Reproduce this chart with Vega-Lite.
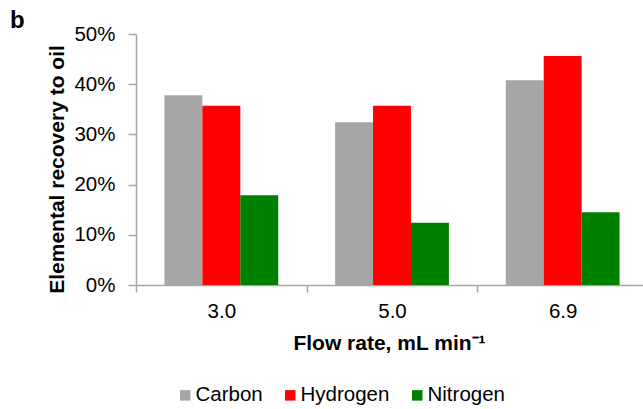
{
  "$schema": "https://vega.github.io/schema/vega-lite/v6.json",
  "width": 507,
  "height": 251,
  "autosize": {"type": "none"},
  "padding": {"left": 136, "top": 34, "right": 0, "bottom": 124},
  "background": "white",
  "title": {
    "text": "b",
    "anchor": "start",
    "frame": "group",
    "fontSize": 24,
    "fontWeight": "bold",
    "font": "Liberation Sans",
    "color": "black",
    "dx": -126,
    "dy": 13
  },
  "config": {
    "view": {"stroke": null},
    "font": "Liberation Sans",
    "axis": {
      "labelFont": "Liberation Sans",
      "titleFont": "Liberation Sans",
      "labelColor": "black",
      "titleColor": "black",
      "domainColor": "#A6A6A6",
      "tickColor": "#A6A6A6",
      "grid": false
    }
  },
  "data": {
    "values": [
      {"flow": "3.0", "element": "Carbon", "value": 0.378},
      {"flow": "3.0", "element": "Hydrogen", "value": 0.357},
      {"flow": "3.0", "element": "Nitrogen", "value": 0.179},
      {"flow": "5.0", "element": "Carbon", "value": 0.324},
      {"flow": "5.0", "element": "Hydrogen", "value": 0.357},
      {"flow": "5.0", "element": "Nitrogen", "value": 0.124},
      {"flow": "6.9", "element": "Carbon", "value": 0.408},
      {"flow": "6.9", "element": "Hydrogen", "value": 0.456},
      {"flow": "6.9", "element": "Nitrogen", "value": 0.145}
    ]
  },
  "mark": {"type": "bar"},
  "encoding": {
    "x": {
      "field": "flow",
      "type": "nominal",
      "sort": ["3.0", "5.0", "6.9"],
      "scale": {"paddingInner": 0, "paddingOuter": 0, "range": [0, 512]},
      "axis": {
        "title": "Flow rate, mL min⁻¹",
        "titleFontSize": 21,
        "titleFontWeight": "bold",
        "titleBaseline": "alphabetic",
        "titleX": 253,
        "titleY": 64,
        "titleAnchor": null,
        "labelAngle": 0,
        "labelFontSize": 20.5,
        "labelPadding": 9,
        "tickBand": "extent",
        "tickSize": 7,
        "domainWidth": 1.5,
        "tickWidth": 1.5
      }
    },
    "xOffset": {
      "field": "element",
      "type": "nominal",
      "sort": ["Carbon", "Hydrogen", "Nitrogen"],
      "scale": {"paddingInner": 0, "paddingOuter": 0.75}
    },
    "y": {
      "field": "value",
      "type": "quantitative",
      "scale": {"domain": [0, 0.5], "nice": false},
      "axis": {
        "title": "Elemental recovery to oil",
        "titleFontSize": 21,
        "titleFontWeight": "bold",
        "titleAngle": -90,
        "titleBaseline": "alphabetic",
        "titleX": -73,
        "titleY": 135,
        "titleAlign": "center",
        "values": [0, 0.1, 0.2, 0.3, 0.4, 0.5],
        "format": ".0%",
        "labelFontSize": 20.5,
        "labelPadding": 13,
        "tickSize": 8,
        "domainWidth": 1.5,
        "tickWidth": 1.5
      }
    },
    "color": {
      "field": "element",
      "type": "nominal",
      "scale": {
        "domain": ["Carbon", "Hydrogen", "Nitrogen"],
        "range": ["#A6A6A6", "#FF0000", "#008000"]
      },
      "legend": {
        "title": null,
        "orient": "none",
        "direction": "horizontal",
        "legendX": 39,
        "legendY": 351,
        "symbolType": "square",
        "symbolSize": 110,
        "symbolStrokeWidth": 0,
        "symbolOpacity": 1,
        "labelFontSize": 20.5,
        "labelFont": "Liberation Sans",
        "labelColor": "black",
        "labelOffset": 0,
        "columnPadding": 17,
        "padding": 0
      }
    }
  }
}
